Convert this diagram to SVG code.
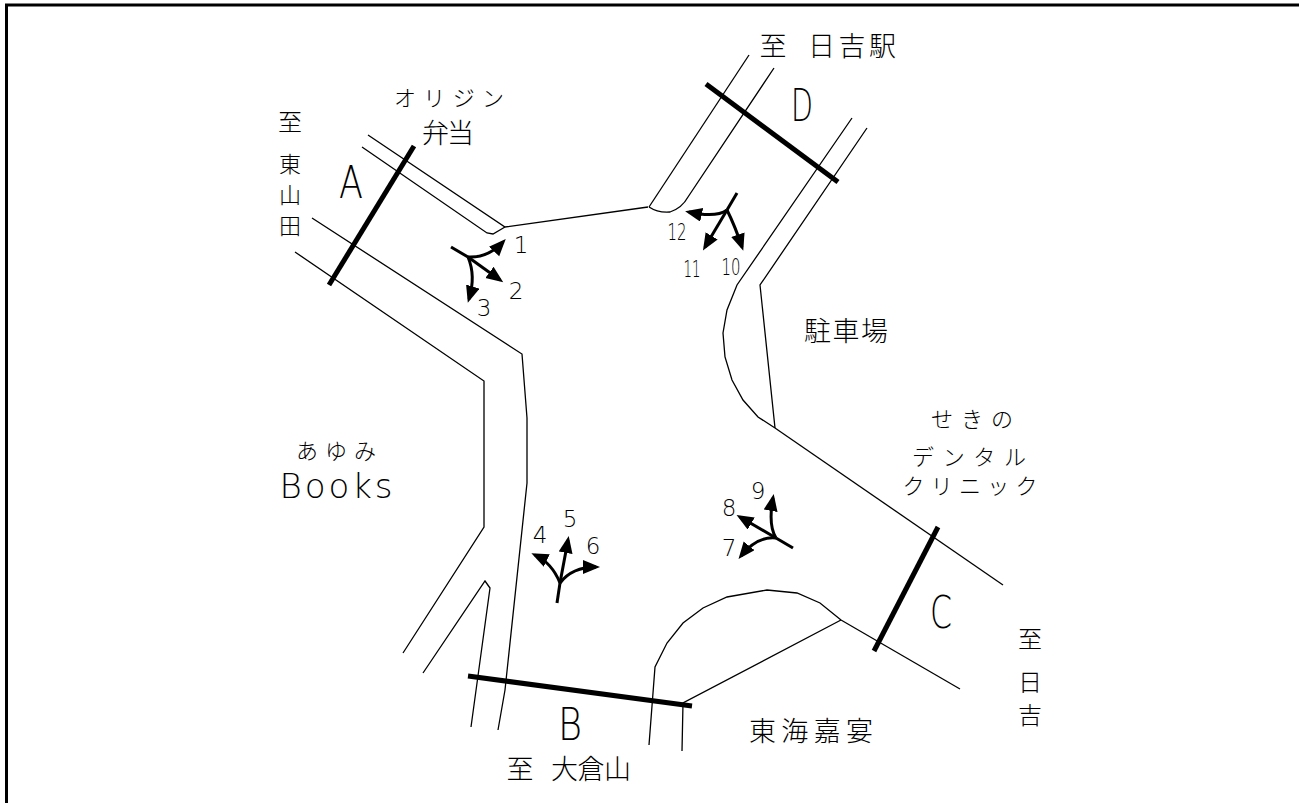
<svg xmlns="http://www.w3.org/2000/svg" width="1299" height="803" viewBox="0 0 1299 803">
<style>
.bg{fill:#ffffff}
.frame{stroke:#000;stroke-width:3;fill:none}
.road{stroke:#000;stroke-width:1.3;fill:none;stroke-linejoin:miter}
.bar{stroke:#000;stroke-width:5;fill:none;stroke-linecap:butt}
.arr{stroke:#000;stroke-width:3;fill:none;stroke-linecap:butt}
.jp{font-family:"Noto Sans CJK JP","Noto Sans CJK SC",sans-serif;font-weight:300;fill:#000}
.jp27{font-size:27px}
.jp25{font-size:24px}
.jpv{font-size:22px}
.jp24{font-size:22px}
.lat{font-family:"DejaVu Sans","Liberation Sans",sans-serif;font-weight:200;fill:#000}
.big{font-size:44px}
.num{font-size:23px}
</style>
<defs>
<marker id="ah" markerUnits="userSpaceOnUse" markerWidth="18" markerHeight="16" refX="13" refY="7" orient="auto">
<path d="M0,0 L17,7 L0,14 z" fill="#000"/>
</marker>
</defs>
<rect class="bg" x="0" y="0" width="1299" height="803"/>
<g id="frame">
<path class="frame" d="M5,5 L1299,5 M6.5,5 L6.5,803"/>
</g>
<g id="connectors">
<path class="road" d="M368,135 L505,227 L648,207"/>
<path class="road" d="M362,147 L487,233 L493,234 L505,227"/>
<path class="road" d="M312,218 L522,354 L527,418 L527,483 L505,690 L498,730"/>
<path class="road" d="M295,252 L484,381 L484,527 L403,653"/>
<path class="road" d="M423,673 L485,581 L490,588 L471,727"/>
<path class="road" d="M749,55 L649,207"/>
<path class="road" d="M774,68 L688,197 Q682,208 670,212 Q658,213 649,207"/>
<path class="road" d="M852,118 L737,285 L727,310 L723,333 L725,357 L732,380 L743,400 L758,417 L775,428"/>
<path class="road" d="M867,128 L760,285 L775,428"/>
<path class="road" d="M775,428 L1003,585"/>
<path class="road" d="M841,620 L960,689"/>
<path class="road" d="M649,745 L655,667 L667,643 L683,623 L703,608 L727,597 L767,590 L797,593 L820,603 L841,620"/>
<path class="road" d="M682,751 L683,703 L841,620"/>
<path class="bar" d="M329,285 L414,146"/>
<path class="bar" d="M468,676 L692,706"/>
<path class="bar" d="M938,527 L874,651"/>
<path class="bar" d="M706,84 L838,182"/>
<path class="arr" d="M451,247 L468,257"/>
<path class="arr" marker-end="url(#ah)" d="M468,257 Q488,258 503,242"/>
<path class="arr" marker-end="url(#ah)" d="M468,257 L500,280"/>
<path class="arr" marker-end="url(#ah)" d="M468,257 Q476,276 469,299"/>
<path class="arr" d="M737,193 L727,210"/>
<path class="arr" marker-end="url(#ah)" d="M727,210 Q716,218 689,212"/>
<path class="arr" marker-end="url(#ah)" d="M727,210 L705,247"/>
<path class="arr" marker-end="url(#ah)" d="M727,210 Q735,226 742,247"/>
<path class="arr" d="M557,603 L560,583"/>
<path class="arr" marker-end="url(#ah)" d="M560,583 Q552,563 535,555"/>
<path class="arr" marker-end="url(#ah)" d="M560,583 L568,540"/>
<path class="arr" marker-end="url(#ah)" d="M560,583 Q572,567 596,567"/>
<path class="arr" d="M793,548 L776,538"/>
<path class="arr" marker-end="url(#ah)" d="M776,538 L740,517"/>
<path class="arr" marker-end="url(#ah)" d="M776,538 Q768,525 773,498"/>
<path class="arr" marker-end="url(#ah)" d="M776,538 Q757,536 741,556"/>
</g>
<g id="approach-A">
<text class="lat big" x="351" y="198" text-anchor="middle" textLength="24" lengthAdjust="spacingAndGlyphs">A</text>
<text class="jp jp25" x="290" y="131" text-anchor="middle">至</text>
<text class="jp jpv" x="290" y="172" text-anchor="middle">東</text>
<text class="jp jpv" x="290" y="203" text-anchor="middle">山</text>
<text class="jp jpv" x="290" y="234" text-anchor="middle">田</text>
</g>
<g id="approach-B">
<text class="lat big" x="570" y="740" text-anchor="middle" textLength="24" lengthAdjust="spacingAndGlyphs">B</text>
<text class="jp jp27" x="520" y="779" text-anchor="middle">至</text>
<text class="jp jp27" x="591" y="779" text-anchor="middle" textLength="80" lengthAdjust="spacing">大倉山</text>
</g>
<g id="approach-C">
<text class="lat big" x="941" y="628" text-anchor="middle" textLength="22" lengthAdjust="spacingAndGlyphs">C</text>
<text class="jp jp25" x="1030" y="648" text-anchor="middle">至</text>
<text class="jp jp25" x="1030" y="691" text-anchor="middle">日</text>
<text class="jp jp25" x="1030" y="724" text-anchor="middle">吉</text>
</g>
<g id="approach-D">
<text class="lat big" x="802" y="121" text-anchor="middle" textLength="22" lengthAdjust="spacingAndGlyphs">D</text>
<text class="jp jp27" x="773" y="56" text-anchor="middle">至</text>
<text class="jp jp27" x="852" y="56" text-anchor="middle" textLength="88" lengthAdjust="spacing">日吉駅</text>
</g>
<g id="landmarks">
<text class="jp jp24" x="449" y="106" text-anchor="middle" textLength="110" lengthAdjust="spacing">オリジン</text>
<text class="jp jp27" x="448" y="143" text-anchor="middle" textLength="52" lengthAdjust="spacing">弁当</text>
<text class="jp jp27" x="846" y="341" text-anchor="middle" textLength="84" lengthAdjust="spacing">駐車場</text>
<text class="jp jp24" x="972" y="427" text-anchor="middle" textLength="82" lengthAdjust="spacing">せきの</text>
<text class="jp jp24" x="969" y="465" text-anchor="middle" textLength="114" lengthAdjust="spacing">デンタル</text>
<text class="jp jp24" x="970" y="494" text-anchor="middle" textLength="135" lengthAdjust="spacing">クリニック</text>
<text class="jp jp24" x="336" y="459" text-anchor="middle" textLength="80" lengthAdjust="spacing">あゆみ</text>
<text class="lat" font-size="34" x="336" y="498" text-anchor="middle" textLength="113" lengthAdjust="spacing">Books</text>
<text class="jp jp27" x="811" y="741" text-anchor="middle" textLength="124" lengthAdjust="spacing">東海嘉宴</text>
</g>
<g id="movement-labels">
<text class="lat num" x="521" y="253" text-anchor="middle">1</text>
<text class="lat num" x="516" y="299" text-anchor="middle">2</text>
<text class="lat num" x="484" y="316" text-anchor="middle">3</text>
<text class="lat num" x="540" y="543" text-anchor="middle">4</text>
<text class="lat num" x="570" y="527" text-anchor="middle">5</text>
<text class="lat num" x="593" y="554" text-anchor="middle">6</text>
<text class="lat num" x="729" y="556" text-anchor="middle">7</text>
<text class="lat num" x="729" y="516" text-anchor="middle">8</text>
<text class="lat num" x="758" y="499" text-anchor="middle">9</text>
<text class="lat num" x="731" y="275" text-anchor="middle" textLength="19" lengthAdjust="spacingAndGlyphs">10</text>
<text class="lat num" x="692" y="277" text-anchor="middle" textLength="17" lengthAdjust="spacingAndGlyphs">11</text>
<text class="lat num" x="677" y="240" text-anchor="middle" textLength="19" lengthAdjust="spacingAndGlyphs">12</text>
</g>
</svg>
